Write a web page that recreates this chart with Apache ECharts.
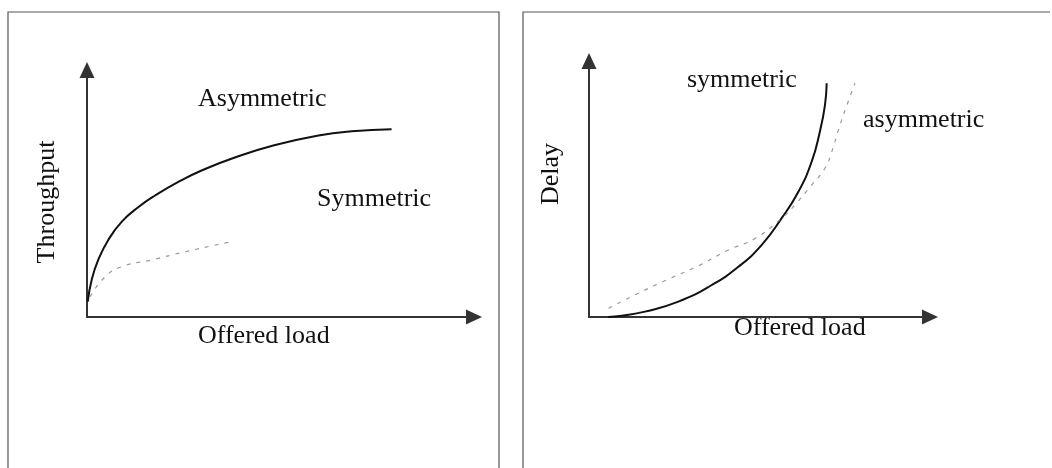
<!DOCTYPE html>
<html>
<head>
<meta charset="utf-8">
<script src="https://cdn.jsdelivr.net/npm/echarts@6/dist/echarts.min.js"></script>
<style>
  html, body { margin: 0; padding: 0; background: #fff; }
  #main { width: 1052px; height: 468px; }
</style>
</head>
<body>
<div id="main"></div>
<script>
// 数据：两条吞吐量曲线（左图）和两条时延曲线（右图），横纵坐标都按 0-100 的相对单位读出
var asymThroughput = [[0.2, 6.2], [1.2, 15], [2.9, 23.1], [5.5, 31.2], [9, 38.6], [13.3, 44.5],
  [17.6, 49.2], [23.6, 54.7], [29.6, 59.3], [38.2, 64.6], [48.6, 69.6], [59.8, 73.5], [68.4, 75.2], [78.7, 76]];
var symThroughput = [[0.8, 8.2], [4.7, 16.3], [9, 20.4], [16.7, 23.1], [25.3, 26.4], [37.4, 30.5]];
var symDelay = [[5.6, 0], [9.6, 0.5], [16.4, 2.1], [26.2, 6], [36, 12.5], [43.8, 19.6], [50.6, 28.1],
  [56.5, 38.6], [61.4, 48.9], [65.3, 60.7], [67.7, 72.4], [69.2, 82.8], [69.7, 91.3]];
var asymDelay = [[5.7, 3.4], [14.5, 9.3], [23.8, 15.1], [32.1, 20], [40.9, 26.2], [48.7, 30.7],
  [56.5, 38.6], [60.4, 43.8], [65.3, 51.6], [69.2, 58.1], [71.2, 64.6], [73.6, 75], [76, 84.1], [78, 91.3]];

var FONT = '26px "Liberation Serif", "DejaVu Serif", serif';
var INK = '#111';

var myChart = echarts.init(document.getElementById('main'), null, { renderer: 'canvas' });

var axisBase = function(gridIndex) {
  return {
    type: 'value',
    gridIndex: gridIndex,
    min: 0,
    max: 100,
    splitLine: { show: false },
    axisTick: { show: false },
    axisLabel: { show: false },
    axisLine: {
      show: true,
      onZero: false,
      symbol: ['none', 'triangle'],
      symbolSize: [15, 16],
      lineStyle: { color: '#333', width: 2 }
    }
  };
};

var solid = { color: INK, width: 2 };
var dashed = { color: '#9a9a9a', width: 1.2, type: [4, 6] };

var label = function(text, x, y, align, rot) {
  return {
    type: 'text',
    x: x,
    y: y,
    rotation: rot || 0,
    style: {
      text: text,
      font: FONT,
      fill: INK,
      align: align,
      verticalAlign: 'middle',
      textAlign: align,
      textVerticalAlign: 'middle'
    }
  };
};

var option = {
  animation: false,
  backgroundColor: '#fff',
  grid: [
    { left: 87, top: 70, width: 387, height: 247 },
    { left: 589, top: 61, width: 341, height: 256 }
  ],
  xAxis: [axisBase(0), axisBase(1)],
  yAxis: [axisBase(0), axisBase(1)],
  series: [
    { name: 'Asymmetric', type: 'line', xAxisIndex: 0, yAxisIndex: 0, data: asymThroughput,
      smooth: 0.5, showSymbol: false, lineStyle: solid },
    { name: 'Symmetric', type: 'line', xAxisIndex: 0, yAxisIndex: 0, data: symThroughput,
      smooth: 0.5, showSymbol: false, lineStyle: dashed },
    { name: 'symmetric', type: 'line', xAxisIndex: 1, yAxisIndex: 1, data: symDelay,
      smooth: 0.5, showSymbol: false, lineStyle: solid },
    { name: 'asymmetric', type: 'line', xAxisIndex: 1, yAxisIndex: 1, data: asymDelay,
      smooth: 0.5, showSymbol: false, lineStyle: dashed }
  ],
  graphic: [
    // 两个面板的边框
    { type: 'rect', shape: { x: 8, y: 12, width: 491, height: 470 },
      style: { fill: 'none', stroke: '#555', lineWidth: 1.2 } },
    { type: 'polyline', shape: { points: [[523, 470], [523, 12], [1050, 12]] },
      style: { fill: 'none', stroke: '#555', lineWidth: 1.2 } },
    // 左图文字
    label('Asymmetric', 198, 99, 'left'),
    label('Symmetric', 317, 199, 'left'),
    label('Offered load', 198, 336, 'left'),
    label('Throughput', 47, 202, 'center', Math.PI / 2),
    // 右图文字
    label('symmetric', 687, 80, 'left'),
    label('asymmetric', 863, 120, 'left'),
    label('Offered load', 734, 328, 'left'),
    label('Delay', 551, 174, 'center', Math.PI / 2)
  ]
};

myChart.setOption(option);
</script>
</body>
</html>
